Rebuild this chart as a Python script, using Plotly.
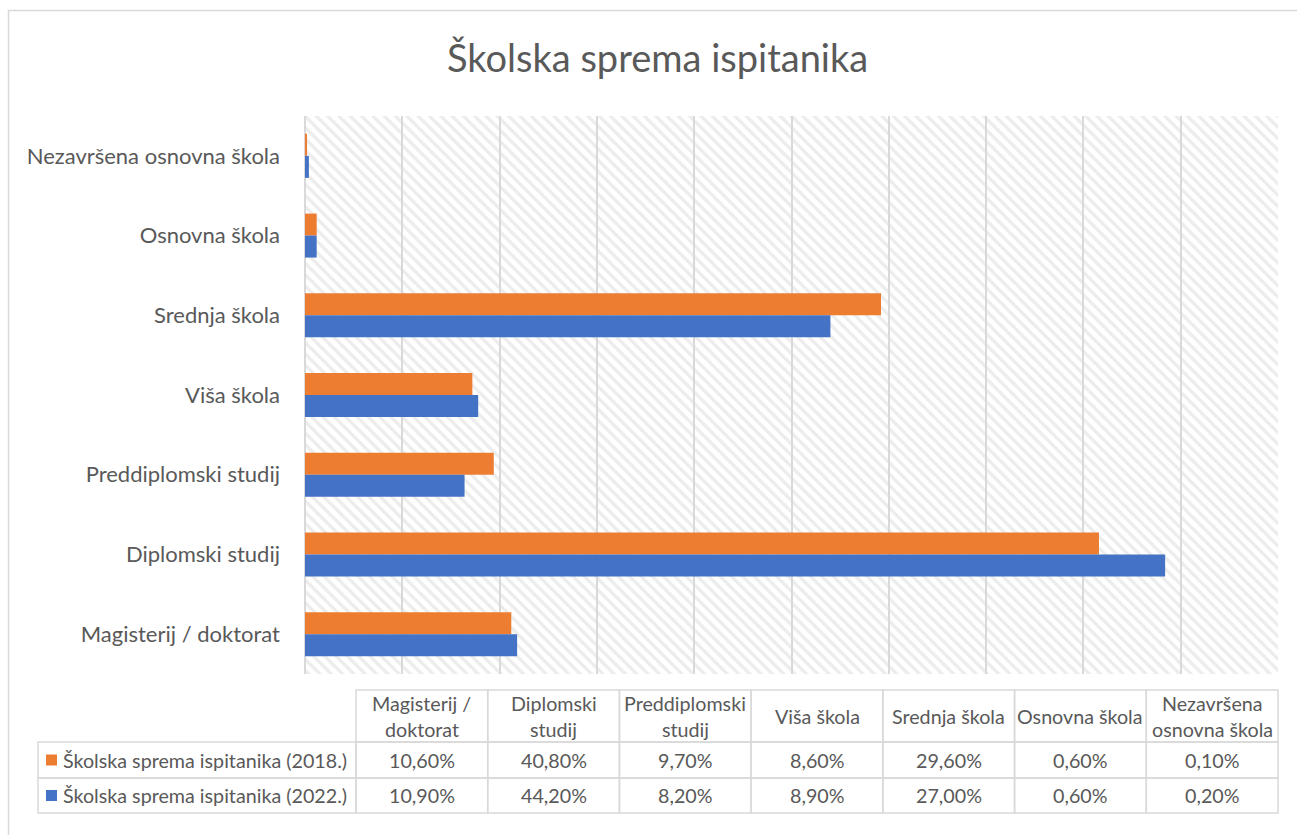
import plotly.graph_objects as go

# ---------------- data ----------------
categories = ["Magisterij / doktorat", "Diplomski studij", "Preddiplomski studij",
              "Viša škola", "Srednja škola", "Osnovna škola", "Nezavršena osnovna škola"]
header_labels = ["Magisterij /<br>doktorat", "Diplomski<br>studij", "Preddiplomski<br>studij",
                 "Viša škola", "Srednja škola", "Osnovna škola", "Nezavršena<br>osnovna škola"]
series_2018_name = "Školska sprema ispitanika (2018.)"
series_2022_name = "Školska sprema ispitanika (2022.)"
values_2018 = [10.6, 40.8, 9.7, 8.6, 29.6, 0.6, 0.1]
values_2022 = [10.9, 44.2, 8.2, 8.9, 27.0, 0.6, 0.2]
title_text = "Školska sprema ispitanika"
x_max = 50
x_step = 5

# ---------------- style ----------------
W, H = 1297, 835
L, R, T, B = 305, 1278, 116, 674
ORANGE = "#ED7D31"
BLUE = "#4472C4"
TXT = "#595959"
GRID = "#d9d9d9"
FONT = "Lato"
bw = 0.276

def px2x(px):
    return (px - L) / (R - L)

def py2y(py):
    return (B - py) / (B - T)

n = len(categories)
idx = list(range(n))

fig = go.Figure()

# hatched plot-area background
fig.add_trace(go.Bar(
    y=[(n - 1) / 2], x=[x_max], width=[n], orientation="h",
    marker=dict(color="rgba(0,0,0,0)", line=dict(width=0),
                pattern=dict(shape="\\", fgcolor="#d9d9d9", bgcolor="rgba(0,0,0,0)",
                             size=8, solidity=0.4)),
    hoverinfo="skip", showlegend=False))

fig.add_trace(go.Bar(
    y=idx, x=values_2018, orientation="h", name=series_2018_name,
    offset=0, width=bw, marker=dict(color=ORANGE, line=dict(width=0)),
    showlegend=False))
fig.add_trace(go.Bar(
    y=idx, x=values_2022, orientation="h", name=series_2022_name,
    offset=-bw, width=bw, marker=dict(color=BLUE, line=dict(width=0)),
    showlegend=False))

shapes = []
annotations = []

# outer chart border
shapes.append(dict(type="rect", xref="paper", yref="paper",
                   x0=px2x(8.5), x1=px2x(1310), y0=py2y(10.5), y1=py2y(850),
                   line=dict(color=GRID, width=1.5), layer="below"))

# data table
tl, tleft, tright = 38, 356, 1278
col_w = (tright - tleft) / n
rows_y = [690, 742, 778, 813]
line = dict(color=GRID, width=1.5)
for j in range(n):
    x0 = tleft + j * col_w
    x1 = x0 + col_w
    for r in range(3):
        shapes.append(dict(type="rect", xref="paper", yref="paper",
                           x0=px2x(x0), x1=px2x(x1), y0=py2y(rows_y[r]), y1=py2y(rows_y[r + 1]),
                           line=line))
for r in (1, 2):
    shapes.append(dict(type="rect", xref="paper", yref="paper",
                       x0=px2x(tl), x1=px2x(tleft), y0=py2y(rows_y[r]), y1=py2y(rows_y[r + 1]),
                       line=line))

tfont = dict(family=FONT, size=19.7, color=TXT)
for j, lab in enumerate(header_labels):
    cx = tleft + (j + 0.5) * col_w
    parts = lab.split("<br>")
    if len(parts) == 1:
        ys = [716]
    else:
        ys = [703, 729]
    for p, yy in zip(parts, ys):
        annotations.append(dict(xref="paper", yref="paper", x=px2x(cx), y=py2y(yy),
                                text=p, showarrow=False, font=tfont,
                                xanchor="center", yanchor="middle"))

def fmt(v):
    return f"{v:.2f}".replace(".", ",") + "%"

for r, (vals, name, col) in enumerate([(values_2018, series_2018_name, ORANGE),
                                       (values_2022, series_2022_name, BLUE)]):
    cy = (rows_y[r + 1] + rows_y[r + 2]) / 2
    for j, v in enumerate(vals):
        cx = tleft + (j + 0.5) * col_w
        annotations.append(dict(xref="paper", yref="paper", x=px2x(cx), y=py2y(cy),
                                text=fmt(v), showarrow=False, font=tfont,
                                xanchor="center", yanchor="middle"))
    shapes.append(dict(type="rect", xref="paper", yref="paper",
                       x0=px2x(46), x1=px2x(57), y0=py2y(cy - 5.5), y1=py2y(cy + 5.5),
                       fillcolor=col, line=dict(width=0)))
    annotations.append(dict(xref="paper", yref="paper", x=px2x(61), y=py2y(cy),
                            text=name, showarrow=False, font=tfont,
                            xanchor="left", yanchor="middle"))

# title
annotations.append(dict(xref="paper", yref="paper", x=px2x(657), y=py2y(57),
                        text=title_text, showarrow=False,
                        font=dict(family=FONT, size=38, color=TXT),
                        xanchor="center", yanchor="middle"))

fig.update_layout(
    width=W, height=H,
    margin=dict(l=L, r=W - R, t=T, b=H - B, pad=0),
    paper_bgcolor="white", plot_bgcolor="white",
    barmode="overlay",
    showlegend=False,
    shapes=shapes, annotations=annotations,
    font=dict(family=FONT, color=TXT),
    xaxis=dict(range=[0, x_max], dtick=x_step, tick0=0, showgrid=True,
               gridcolor=GRID, gridwidth=1.5, zeroline=True, zerolinecolor=GRID,
               zerolinewidth=1.5, showticklabels=False, ticks="", fixedrange=True),
    yaxis=dict(range=[-0.5, n - 0.5], tickvals=idx, ticktext=categories,
               showgrid=False, zeroline=False, ticks="", ticklabelstandoff=24,
               tickfont=dict(family=FONT, size=22, color=TXT), fixedrange=True),
)

fig.write_html("out.html", config={"displayModeBar": False},
               post_script="document.body.style.margin='0px';document.body.style.overflow='hidden';")
